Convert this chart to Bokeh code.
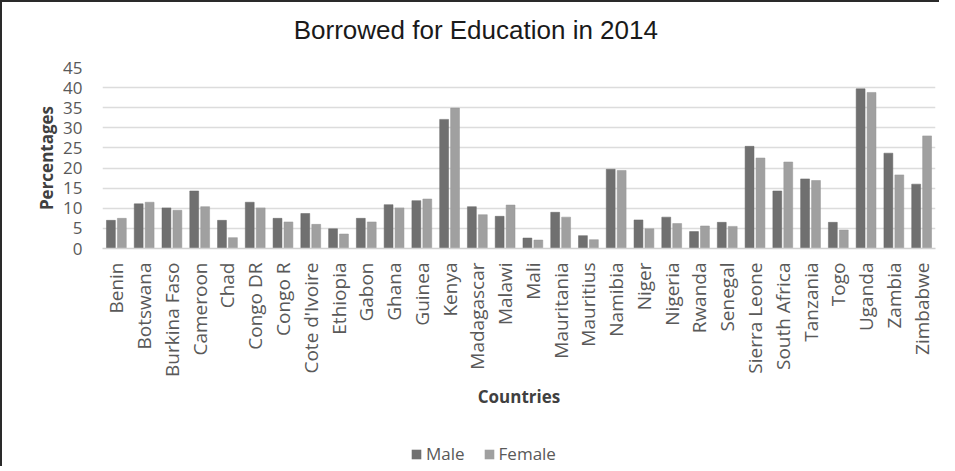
import math
from bokeh.plotting import figure
from bokeh.layouts import column
from bokeh.models import (ColumnDataSource, FactorRange, Range1d, FixedTicker, Legend,
                          LegendItem, Label)
from bokeh.transform import dodge
from bokeh.embed import file_html
from bokeh.resources import INLINE

title_text = "Borrowed for Education in 2014"
countries = ["Benin", "Botswana", "Burkina Faso", "Cameroon", "Chad", "Congo DR", "Congo R",
             "Cote d'Ivoire", "Ethiopia", "Gabon", "Ghana", "Guinea", "Kenya", "Madagascar",
             "Malawi", "Mali", "Mauritania", "Mauritius", "Namibia", "Niger", "Nigeria", "Rwanda",
             "Senegal", "Sierra Leone", "South Africa", "Tanzania", "Togo", "Uganda", "Zambia",
             "Zimbabwe"]
male = [7.0, 11.1, 10.1, 14.3, 7.0, 11.5, 7.5, 8.7, 4.9, 7.5, 10.9, 11.9, 32.1, 10.4,
        8.0, 2.6, 9.0, 3.2, 19.7, 7.1, 7.8, 4.2, 6.5, 25.4, 14.3, 17.3, 6.5, 39.7, 23.7, 16.0]
female = [7.5, 11.5, 9.5, 10.4, 2.7, 10.1, 6.6, 6.0, 3.6, 6.6, 10.1, 12.3, 34.9, 8.4,
          10.8, 2.1, 7.8, 2.2, 19.4, 4.9, 6.2, 5.6, 5.5, 22.5, 21.5, 16.9, 4.6, 38.8, 18.3, 28.0]
y_ticks = [0, 5, 10, 15, 20, 25, 30, 35, 40, 45]

MALE_C, FEMALE_C = "#707070", "#a0a0a0"
W = 937


def bare(h):
    # strip figure whose frame is aligned (by the column) with the main chart's frame;
    # its x range is expressed in page pixels of that frame
    f = figure(width=W, height=h, x_range=Range1d(104, 943), y_range=Range1d(0, h),
               output_backend="svg", toolbar_location=None,
               x_axis_location=None, y_axis_location=None,
               min_border=0, min_border_left=0, min_border_right=0,
               min_border_top=0, min_border_bottom=0)
    f.outline_line_color = None
    f.xgrid.grid_line_color = None
    f.ygrid.grid_line_color = None
    return f


# title strip
t = bare(52)
t.add_layout(Label(x=480, y=25, text=title_text, text_align="center",
                   text_baseline="alphabetic", text_font="Liberation Sans",
                   text_font_size="26px", text_color="#1a1a1a"))

# main chart
src = ColumnDataSource(dict(country=countries, male=male, female=female))
p = figure(x_range=FactorRange(*countries, range_padding=0), y_range=Range1d(0, 45),
           width=W, height=384, output_backend="svg", toolbar_location=None,
           min_border_left=100, min_border_right=4, min_border_top=13, min_border_bottom=190)
p.outline_line_color = None
p.xgrid.grid_line_color = None
p.ygrid.grid_line_color = "#dcdcdc"
p.ygrid.grid_line_width = 1.5
p.yaxis.ticker = FixedTicker(ticks=y_ticks)

p.vbar(x=dodge("country", -0.197, range=p.x_range), top="male", width=0.32, source=src,
       fill_color=MALE_C, line_color="#666666", line_width=0.5)
p.vbar(x=dodge("country", 0.197, range=p.x_range), top="female", width=0.32, source=src,
       fill_color=FEMALE_C, line_color="#959595", line_width=0.5)

for ax in (p.xaxis, p.yaxis):
    ax.major_tick_line_color = None
    ax.minor_tick_line_color = None
    ax.major_label_text_font = "Open Sans"
    ax.major_label_text_color = "#595959"
    ax.axis_label_text_font = "Open Sans"
    ax.axis_label_text_font_style = "bold"
    ax.axis_label_text_color = "#404040"
    ax.axis_label_text_font_size = "17px"

p.yaxis.axis_line_color = None
p.yaxis.major_label_text_font_size = "17px"
p.yaxis.axis_label = "Percentages"
p.yaxis.major_label_standoff = 14
p.yaxis.axis_label_standoff = 2

p.xaxis.axis_line_color = "#d0d0d0"
p.xaxis.axis_line_width = 1.5
p.xaxis.major_label_orientation = math.pi / 2
p.xaxis.major_label_text_font_size = "19px"
p.xaxis.major_label_standoff = 8
p.xaxis.axis_label = "Countries"
p.xaxis.axis_label_standoff = 5

# legend strip (swatch renderers hold one point outside the strip's visible range)
lg = bare(28)
dm = lg.vbar(x=[0], top=[0], width=1, fill_color=MALE_C, line_color=None)
df = lg.vbar(x=[0], top=[0], width=1, fill_color=FEMALE_C, line_color=None)
legend = Legend(items=[LegendItem(label="Male", renderers=[dm]),
                       LegendItem(label="Female", renderers=[df])],
                orientation="horizontal", location=(308, 1))
legend.border_line_color = None
legend.background_fill_alpha = 0
legend.label_text_font = "Open Sans"
legend.label_text_font_size = "17px"
legend.label_text_color = "#595959"
legend.glyph_width = 12
legend.glyph_height = 12
legend.spacing = 18
legend.padding = 0
legend.margin = 0
legend.label_standoff = 4
lg.add_layout(legend, "center")

layout = column(t, p, lg, spacing=0)
layout.styles = {"border-left": "2px solid #2a2a2a", "border-top": "2px solid #2a2a2a"}

open("out.html", "w").write(file_html(layout, INLINE))
